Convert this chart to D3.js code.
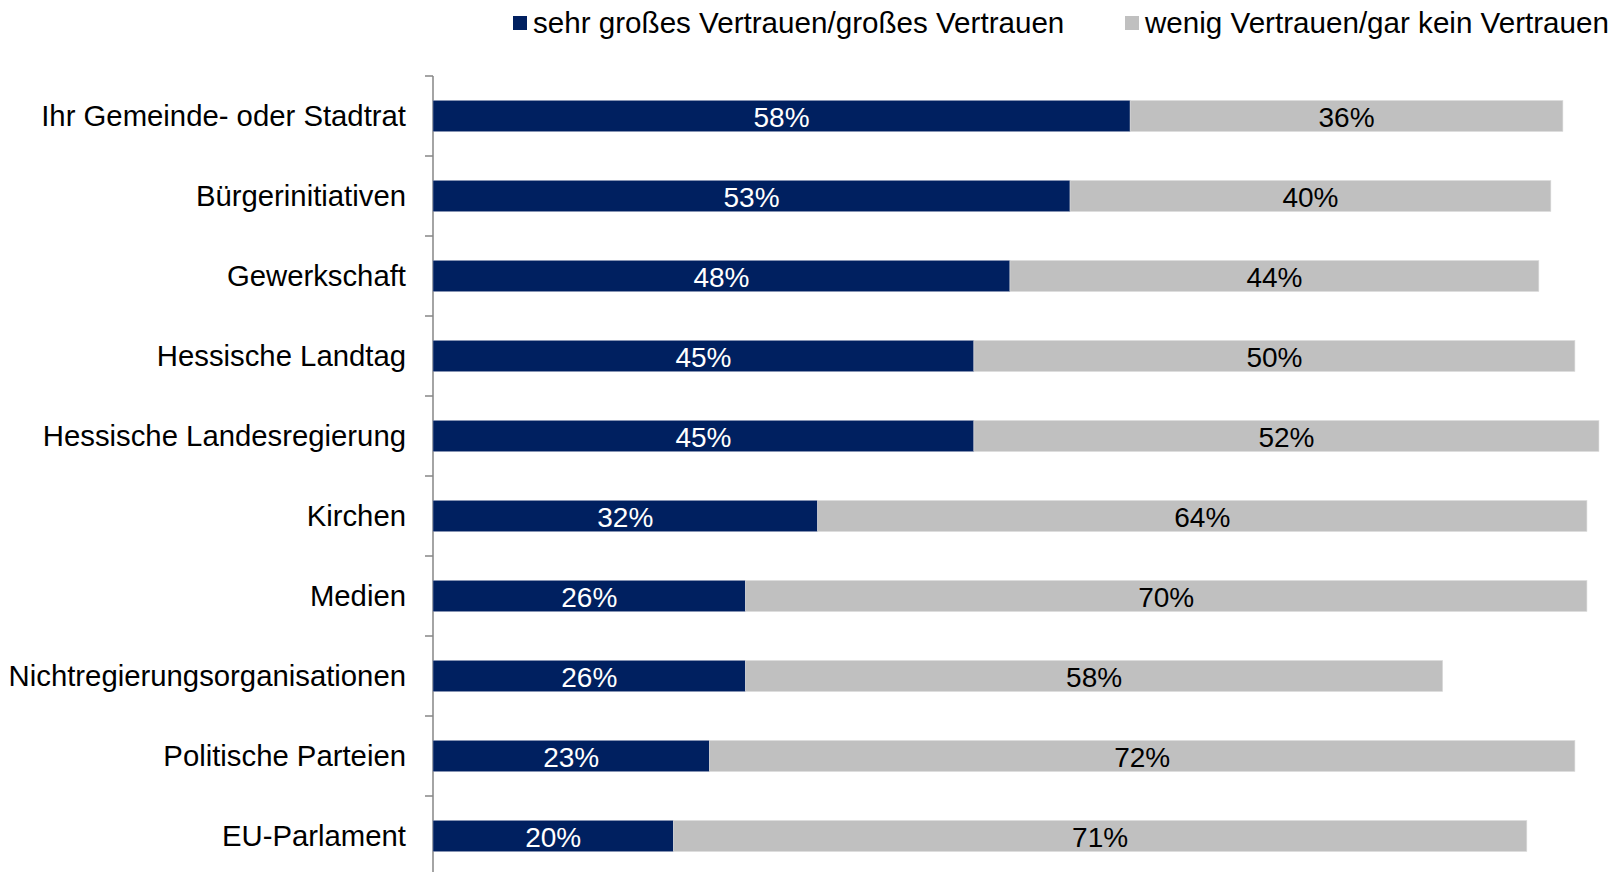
<!DOCTYPE html>
<html>
<head>
<meta charset="utf-8">
<script src="https://cdn.jsdelivr.net/npm/d3@7"></script>
<style>
  body { margin: 0; background: #fff; }
  text { font-family: "Liberation Sans", Arial, sans-serif; }
</style>
</head>
<body>
<div id="chart"></div>
<script>
var categories = ["Ihr Gemeinde- oder Stadtrat", "Bürgerinitiativen", "Gewerkschaft", "Hessische Landtag",
    "Hessische Landesregierung", "Kirchen", "Medien", "Nichtregierungsorganisationen",
    "Politische Parteien", "EU-Parlament"];
var vertrauen = [58, 53, 48, 45, 45, 32, 26, 26, 23, 20];
var keinVertrauen = [36, 40, 44, 50, 52, 64, 70, 58, 72, 71];
var seriesNames = ["sehr großes Vertrauen/großes Vertrauen", "wenig Vertrauen/gar kein Vertrauen"];
var colors = ["#002060", "#c0c0c0"];

var W = 1621, H = 872;
var svg = d3.select("#chart").append("svg")
    .attr("width", W).attr("height", H);

var x = d3.scaleLinear().domain([0, 100]).range([433, 1635]);
var y = d3.scaleBand().domain(categories).range([76, 876])
    .paddingInner(0.6125).paddingOuter(0.30625);

var rows = categories.map(function(c, i) {
    return {cat: c, a: vertrauen[i], b: keinVertrauen[i]};
});

// axis line + ticks between categories
var axisX = 433;
svg.append("line")
    .attr("x1", axisX).attr("x2", axisX)
    .attr("y1", y.range()[0]).attr("y2", y.range()[1])
    .attr("stroke", "#868686").attr("stroke-width", 1.5);

var bounds = categories.map(function(c) { return y(c) - y.step() * y.paddingInner() / 2; });
bounds.push(y.range()[1]);
svg.selectAll(".tick").data(bounds).enter().append("line")
    .attr("x1", axisX - 8).attr("x2", axisX)
    .attr("y1", function(d) { return d; }).attr("y2", function(d) { return d; })
    .attr("stroke", "#868686").attr("stroke-width", 1.5);

// category labels
svg.selectAll(".cat").data(rows).enter().append("text")
    .attr("x", 406)
    .attr("y", function(d) { return y(d.cat) + y.bandwidth() / 2; })
    .attr("dy", "0.35em")
    .attr("text-anchor", "end")
    .attr("font-size", 29.3)
    .attr("fill", "#000")
    .text(function(d) { return d.cat; });

// dark segments
svg.selectAll(".barA").data(rows).enter().append("rect")
    .attr("x", x(0))
    .attr("y", function(d) { return y(d.cat); })
    .attr("width", function(d) { return x(d.a) - x(0); })
    .attr("height", y.bandwidth())
    .attr("fill", colors[0])
    .attr("stroke", "#8a97b5").attr("stroke-width", 0.6);

// grey segments
svg.selectAll(".barB").data(rows).enter().append("rect")
    .attr("x", function(d) { return x(d.a); })
    .attr("y", function(d) { return y(d.cat); })
    .attr("width", function(d) { return x(d.a + d.b) - x(d.a); })
    .attr("height", y.bandwidth())
    .attr("fill", colors[1])
    .attr("stroke", "#dcdcdc").attr("stroke-width", 0.6);

// value labels
svg.selectAll(".valA").data(rows).enter().append("text")
    .attr("x", function(d) { return (x(0) + x(d.a)) / 2; })
    .attr("y", function(d) { return y(d.cat) + y.bandwidth() / 2; })
    .attr("dy", "0.4em")
    .attr("text-anchor", "middle")
    .attr("font-size", 28)
    .attr("fill", "#fff")
    .text(function(d) { return d.a + "%"; });

svg.selectAll(".valB").data(rows).enter().append("text")
    .attr("x", function(d) { return (x(d.a) + x(d.a + d.b)) / 2; })
    .attr("y", function(d) { return y(d.cat) + y.bandwidth() / 2; })
    .attr("dy", "0.4em")
    .attr("text-anchor", "middle")
    .attr("font-size", 28)
    .attr("fill", "#000")
    .text(function(d) { return d.b + "%"; });

// legend
var legendX = [513, 1125];
var legend = svg.selectAll(".legend").data(seriesNames).enter().append("g")
    .attr("transform", function(d, i) { return "translate(" + legendX[i] + ",0)"; });
legend.append("rect")
    .attr("x", 0).attr("y", 16)
    .attr("width", 14).attr("height", 14)
    .attr("fill", function(d, i) { return colors[i]; });
legend.append("text")
    .attr("x", 20).attr("y", 23)
    .attr("dy", "0.35em")
    .attr("font-size", 29.6)
    .attr("fill", "#000")
    .text(function(d) { return d; });
</script>
</body>
</html>
